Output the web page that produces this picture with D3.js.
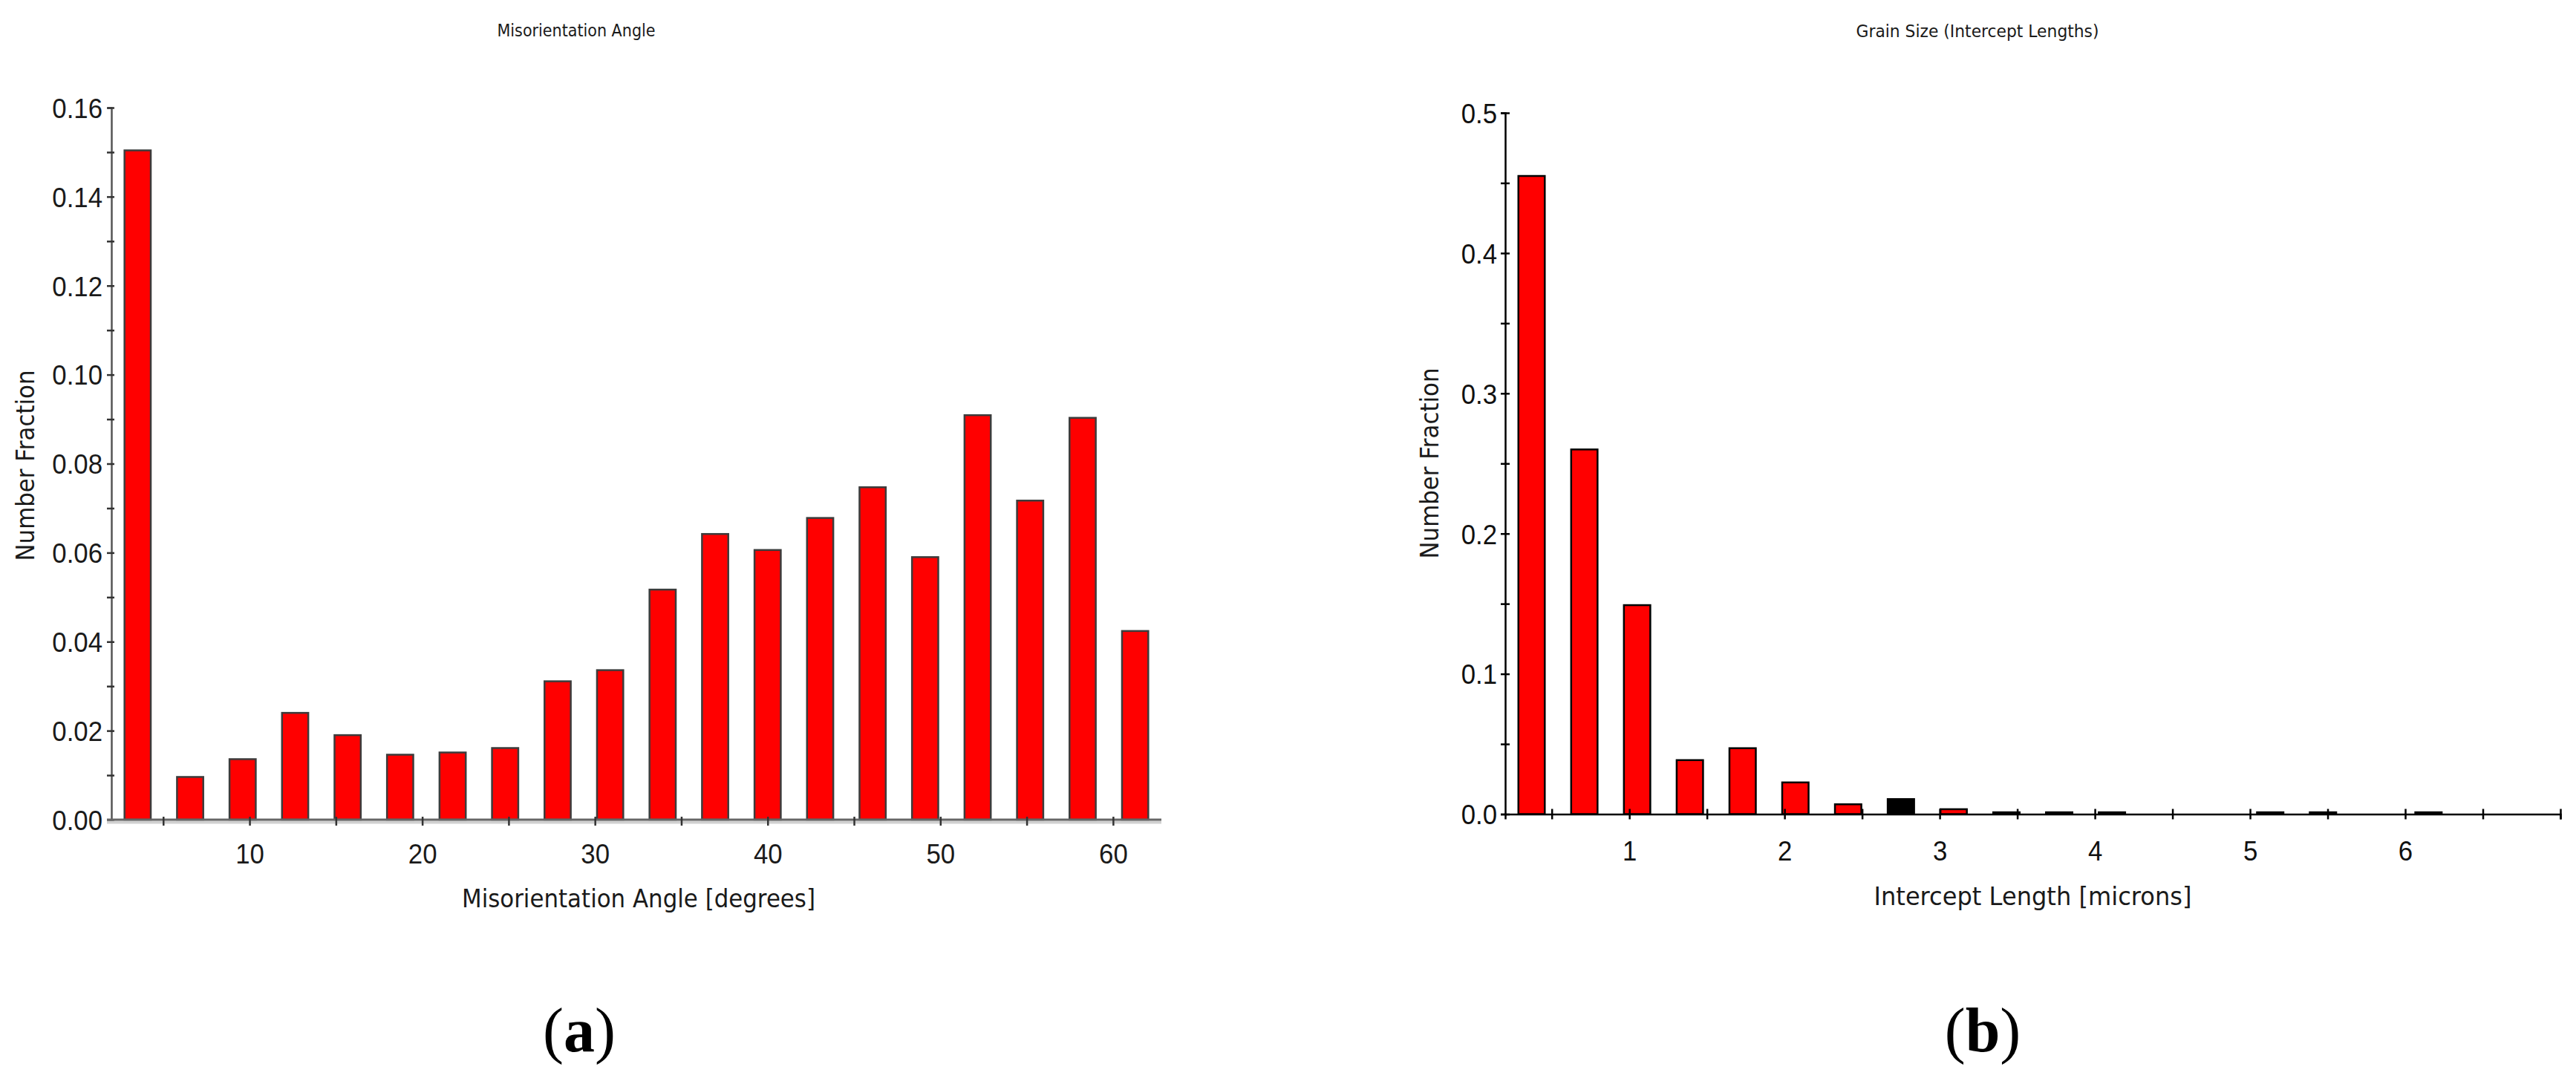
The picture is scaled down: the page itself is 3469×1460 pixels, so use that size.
<!DOCTYPE html>
<html>
<head>
<meta charset="utf-8">
<script src="https://cdn.jsdelivr.net/npm/d3@7"></script>
<style>
  html, body { margin: 0; padding: 0; background: #ffffff; }
  svg { display: block; }
</style>
</head>
<body>
<script>
// ---------------- DATA ----------------
// (a) Misorientation angle histogram: bin centres [degrees] and number fractions
const misoBinCenters = [3.52, 6.56, 9.60, 12.64, 15.68, 18.72, 21.76, 24.80, 27.84, 30.88,
                        33.92, 36.96, 40.00, 43.04, 46.08, 49.12, 52.16, 55.20, 58.24, 61.28];
const misoFractions  = [0.1504, 0.0096, 0.0136, 0.0240, 0.0190, 0.0146, 0.0151, 0.0161, 0.0311, 0.0336,
                        0.0517, 0.0642, 0.0606, 0.0678, 0.0747, 0.0590, 0.0909, 0.0717, 0.0903, 0.0424];
const misoBinWidth = 3.04;
const misoDomain = [2, 62.8];
const misoYTicks = [0, 0.01, 0.02, 0.03, 0.04, 0.05, 0.06, 0.07, 0.08, 0.09, 0.10, 0.11, 0.12, 0.13, 0.14, 0.15, 0.16];
const misoYLabels = [0, 0.02, 0.04, 0.06, 0.08, 0.10, 0.12, 0.14, 0.16];
const misoXTicks = [5, 10, 15, 20, 25, 30, 35, 40, 45, 50, 55, 60];
const misoXLabels = [10, 20, 30, 40, 50, 60];

// (b) Grain size (intercept lengths) histogram: bin centres [microns] and number fractions
const grainBinCenters = [0.37, 0.71, 1.05, 1.39, 1.73, 2.07, 2.41, 2.75, 3.09, 3.43,
                         3.77, 4.11, 4.45, 4.79, 5.13, 5.47, 5.81, 6.15, 6.49, 6.83];
const grainFractions  = [0.455, 0.260, 0.149, 0.0385, 0.047, 0.0226, 0.0070, 0.0107, 0.0035, 0.0013,
                         0.0013, 0.0013, 0, 0, 0.0013, 0.0013, 0, 0.0013, 0, 0];
const grainBinWidth = 0.34;
const grainDomain = [0.2, 7.0];
const grainYTicks = [0, 0.05, 0.1, 0.15, 0.2, 0.25, 0.3, 0.35, 0.4, 0.45, 0.5];
const grainYLabels = [0, 0.1, 0.2, 0.3, 0.4, 0.5];
const grainXTicks = [0.5, 1, 1.5, 2, 2.5, 3, 3.5, 4, 4.5, 5, 5.5, 6, 6.5, 7];
const grainXLabels = [1, 2, 3, 4, 5, 6];

const texts = {
  aTitle: "Misorientation Angle",
  aX: "Misorientation Angle [degrees]",
  bTitle: "Grain Size (Intercept Lengths)",
  bX: "Intercept Length [microns]",
  y: "Number Fraction",
  aCap: "a", bCap: "b"
};

// ---------------- STYLE / LAYOUT ----------------
const W = 3469, H = 1460;
const HIGHLIGHT_GRAIN_BIN = 7;           // the black bar in (b)
const TICK_FONT = "'Liberation Sans', Arial, sans-serif";
const LABEL_FONT = "'DejaVu Sans', Verdana, sans-serif";

const svg = d3.select("body").append("svg")
  .attr("width", W).attr("height", H)
  .attr("viewBox", `0 0 ${W} ${H}`);
svg.append("rect").attr("width", W).attr("height", H).attr("fill", "#fff");

function condense(sel, factor) {
  sel.each(function () {
    const n = this.getComputedTextLength();
    if (n > 0) {
      d3.select(this).attr("textLength", n * factor).attr("lengthAdjust", "spacingAndGlyphs");
    }
  });
}

function fitText(g, str, x, y, size, len, opts = {}) {
  const t = g.append("text")
    .attr("x", x).attr("y", y)
    .attr("text-anchor", "middle")
    .attr("font-family", opts.family || LABEL_FONT)
    .attr("font-size", size)
    .attr("fill", opts.fill || "#1a1a1a")
    .text(str);
  if (opts.rotate) t.attr("transform", `rotate(-90 ${x} ${y})`);
  if (len) t.attr("textLength", len).attr("lengthAdjust", "spacingAndGlyphs");
  return t;
}

// ================= (a) =================
const xA = d3.scaleLinear().domain(misoDomain).range([150, 1564]);
const yA = d3.scaleLinear().domain([0, 0.16]).range([1104, 145]);
const gA = svg.append("g");

// bars
gA.selectAll("rect.bar").data(misoBinCenters).join("rect")
  .attr("class", "bar")
  .attr("x", (c) => xA(c - misoBinWidth / 4))
  .attr("width", (c) => xA(c + misoBinWidth / 4) - xA(c - misoBinWidth / 4))
  .attr("y", (c, i) => yA(misoFractions[i]))
  .attr("height", (c, i) => yA(0) - yA(misoFractions[i]))
  .attr("fill", "#ff0000")
  .attr("stroke", "#3c3c3c")
  .attr("stroke-width", 2.5);

// y axis
const yAxisA = d3.axisLeft(yA)
  .tickValues(misoYTicks)
  .tickSizeOuter(0)
  .tickSize(5)
  .tickFormat((d) => (misoYLabels.some((v) => Math.abs(v - d) < 1e-9) ? d3.format(".2f")(d) : ""));
const gyA = gA.append("g").attr("transform", `translate(${xA(misoDomain[0])},0)`).call(yAxisA);
gyA.select(".domain").attr("stroke", "#555").attr("stroke-width", 2.5);
gyA.selectAll(".tick line").attr("x1", -6).attr("x2", 4).attr("stroke", "#333").attr("stroke-width", 2.5);
gyA.selectAll(".tick text")
  .attr("x", -12).attr("dy", "0.36em")
  .attr("font-family", TICK_FONT).attr("font-size", 37).attr("fill", "#1a1a1a");
condense(gyA.selectAll(".tick text"), 0.94);

// x axis
gA.append("line")
  .attr("x1", xA(misoDomain[0]) - 6).attr("x2", xA(misoDomain[1]))
  .attr("y1", yA(0) + 3.5).attr("y2", yA(0) + 3.5)
  .attr("stroke", "#d0d0d0").attr("stroke-width", 4);
const xAxisA = d3.axisBottom(xA)
  .tickValues(misoXTicks)
  .tickSizeOuter(0)
  .tickSize(7)
  .tickFormat((d) => (misoXLabels.includes(d) ? d3.format("d")(d) : ""));
const gxA = gA.append("g").attr("transform", `translate(0,${yA(0)})`).call(xAxisA);
gxA.select(".domain").attr("d", `M${xA(misoDomain[0]) - 6},0H${xA(misoDomain[1])}`)
  .attr("stroke", "#666").attr("stroke-width", 3);
gxA.selectAll(".tick line").attr("y1", -4).attr("y2", 8).attr("stroke", "#333").attr("stroke-width", 2.5);
gxA.selectAll(".tick text")
  .attr("y", 59).attr("dy", 0)
  .attr("font-family", TICK_FONT).attr("font-size", 37).attr("fill", "#1a1a1a");
condense(gxA.selectAll(".tick text"), 0.94);

// titles
fitText(gA, texts.aTitle, 776, 49, 23, 213);
fitText(gA, texts.aX, 860, 1222, 34, 476);
fitText(gA, texts.y, 46, 627, 34, 257, { rotate: true });

// ================= (b) =================
const xB = d3.scaleLinear().domain(grainDomain).range([2027, 3448]);
const yB = d3.scaleLinear().domain([0, 0.5]).range([1096.5, 152]);
const gB = svg.append("g");

gB.selectAll("rect.bar").data(grainBinCenters).join("rect")
  .attr("class", "bar")
  .attr("x", (c) => xB(c - grainBinWidth / 4))
  .attr("width", (c) => xB(c + grainBinWidth / 4) - xB(c - grainBinWidth / 4))
  .attr("y", (c, i) => yB(grainFractions[i]))
  .attr("height", (c, i) => yB(0) - yB(grainFractions[i]))
  .attr("fill", (c, i) => (i === HIGHLIGHT_GRAIN_BIN ? "#000000" : "#ff0000"))
  .attr("stroke", "#000")
  .attr("stroke-width", 2.5)
  .attr("display", (c, i) => (grainFractions[i] > 0 ? null : "none"));

const yAxisB = d3.axisLeft(yB)
  .tickValues(grainYTicks)
  .tickSizeOuter(0)
  .tickSize(6)
  .tickFormat((d) => (grainYLabels.some((v) => Math.abs(v - d) < 1e-9) ? d3.format(".1f")(d) : ""));
const gyB = gB.append("g").attr("transform", `translate(${xB(grainDomain[0])},0)`).call(yAxisB);
gyB.select(".domain").attr("stroke", "#000").attr("stroke-width", 2.5);
gyB.selectAll(".tick line").attr("x1", -6).attr("x2", 6).attr("stroke", "#000").attr("stroke-width", 2.5);
gyB.selectAll(".tick text")
  .attr("x", -11).attr("dy", "0.36em")
  .attr("font-family", TICK_FONT).attr("font-size", 37).attr("fill", "#111");
condense(gyB.selectAll(".tick text"), 0.94);

const xAxisB = d3.axisBottom(xB)
  .tickValues(grainXTicks)
  .tickSizeOuter(0)
  .tickSize(7)
  .tickFormat((d) => (grainXLabels.includes(d) ? d3.format("d")(d) : ""));
const gxB = gB.append("g").attr("transform", `translate(0,${yB(0)})`).call(xAxisB);
gxB.select(".domain").attr("stroke", "#000").attr("stroke-width", 2.5);
gxB.selectAll(".tick line").attr("y1", -7).attr("y2", 7).attr("stroke", "#000").attr("stroke-width", 2.5);
gxB.selectAll(".tick text")
  .attr("y", 62).attr("dy", 0)
  .attr("font-family", TICK_FONT).attr("font-size", 37).attr("fill", "#111");
condense(gxB.selectAll(".tick text"), 0.94);

fitText(gB, texts.bTitle, 2663, 50, 23, 327);
fitText(gB, texts.bX, 2737.5, 1219, 34, 428);
fitText(gB, texts.y, 1937, 624, 34, 257, { rotate: true });

// ================= captions =================
function caption(x, letter) {
  const t = svg.append("text")
    .attr("x", x).attr("y", 1416)
    .attr("text-anchor", "middle")
    .attr("font-family", "'Liberation Serif', 'Times New Roman', serif")
    .attr("font-size", 84)
    .attr("fill", "#000");
  t.append("tspan").text("(");
  t.append("tspan").attr("font-weight", "bold").text(letter);
  t.append("tspan").text(")");
}
caption(780, texts.aCap);
caption(2670, texts.bCap);
</script>
</body>
</html>
